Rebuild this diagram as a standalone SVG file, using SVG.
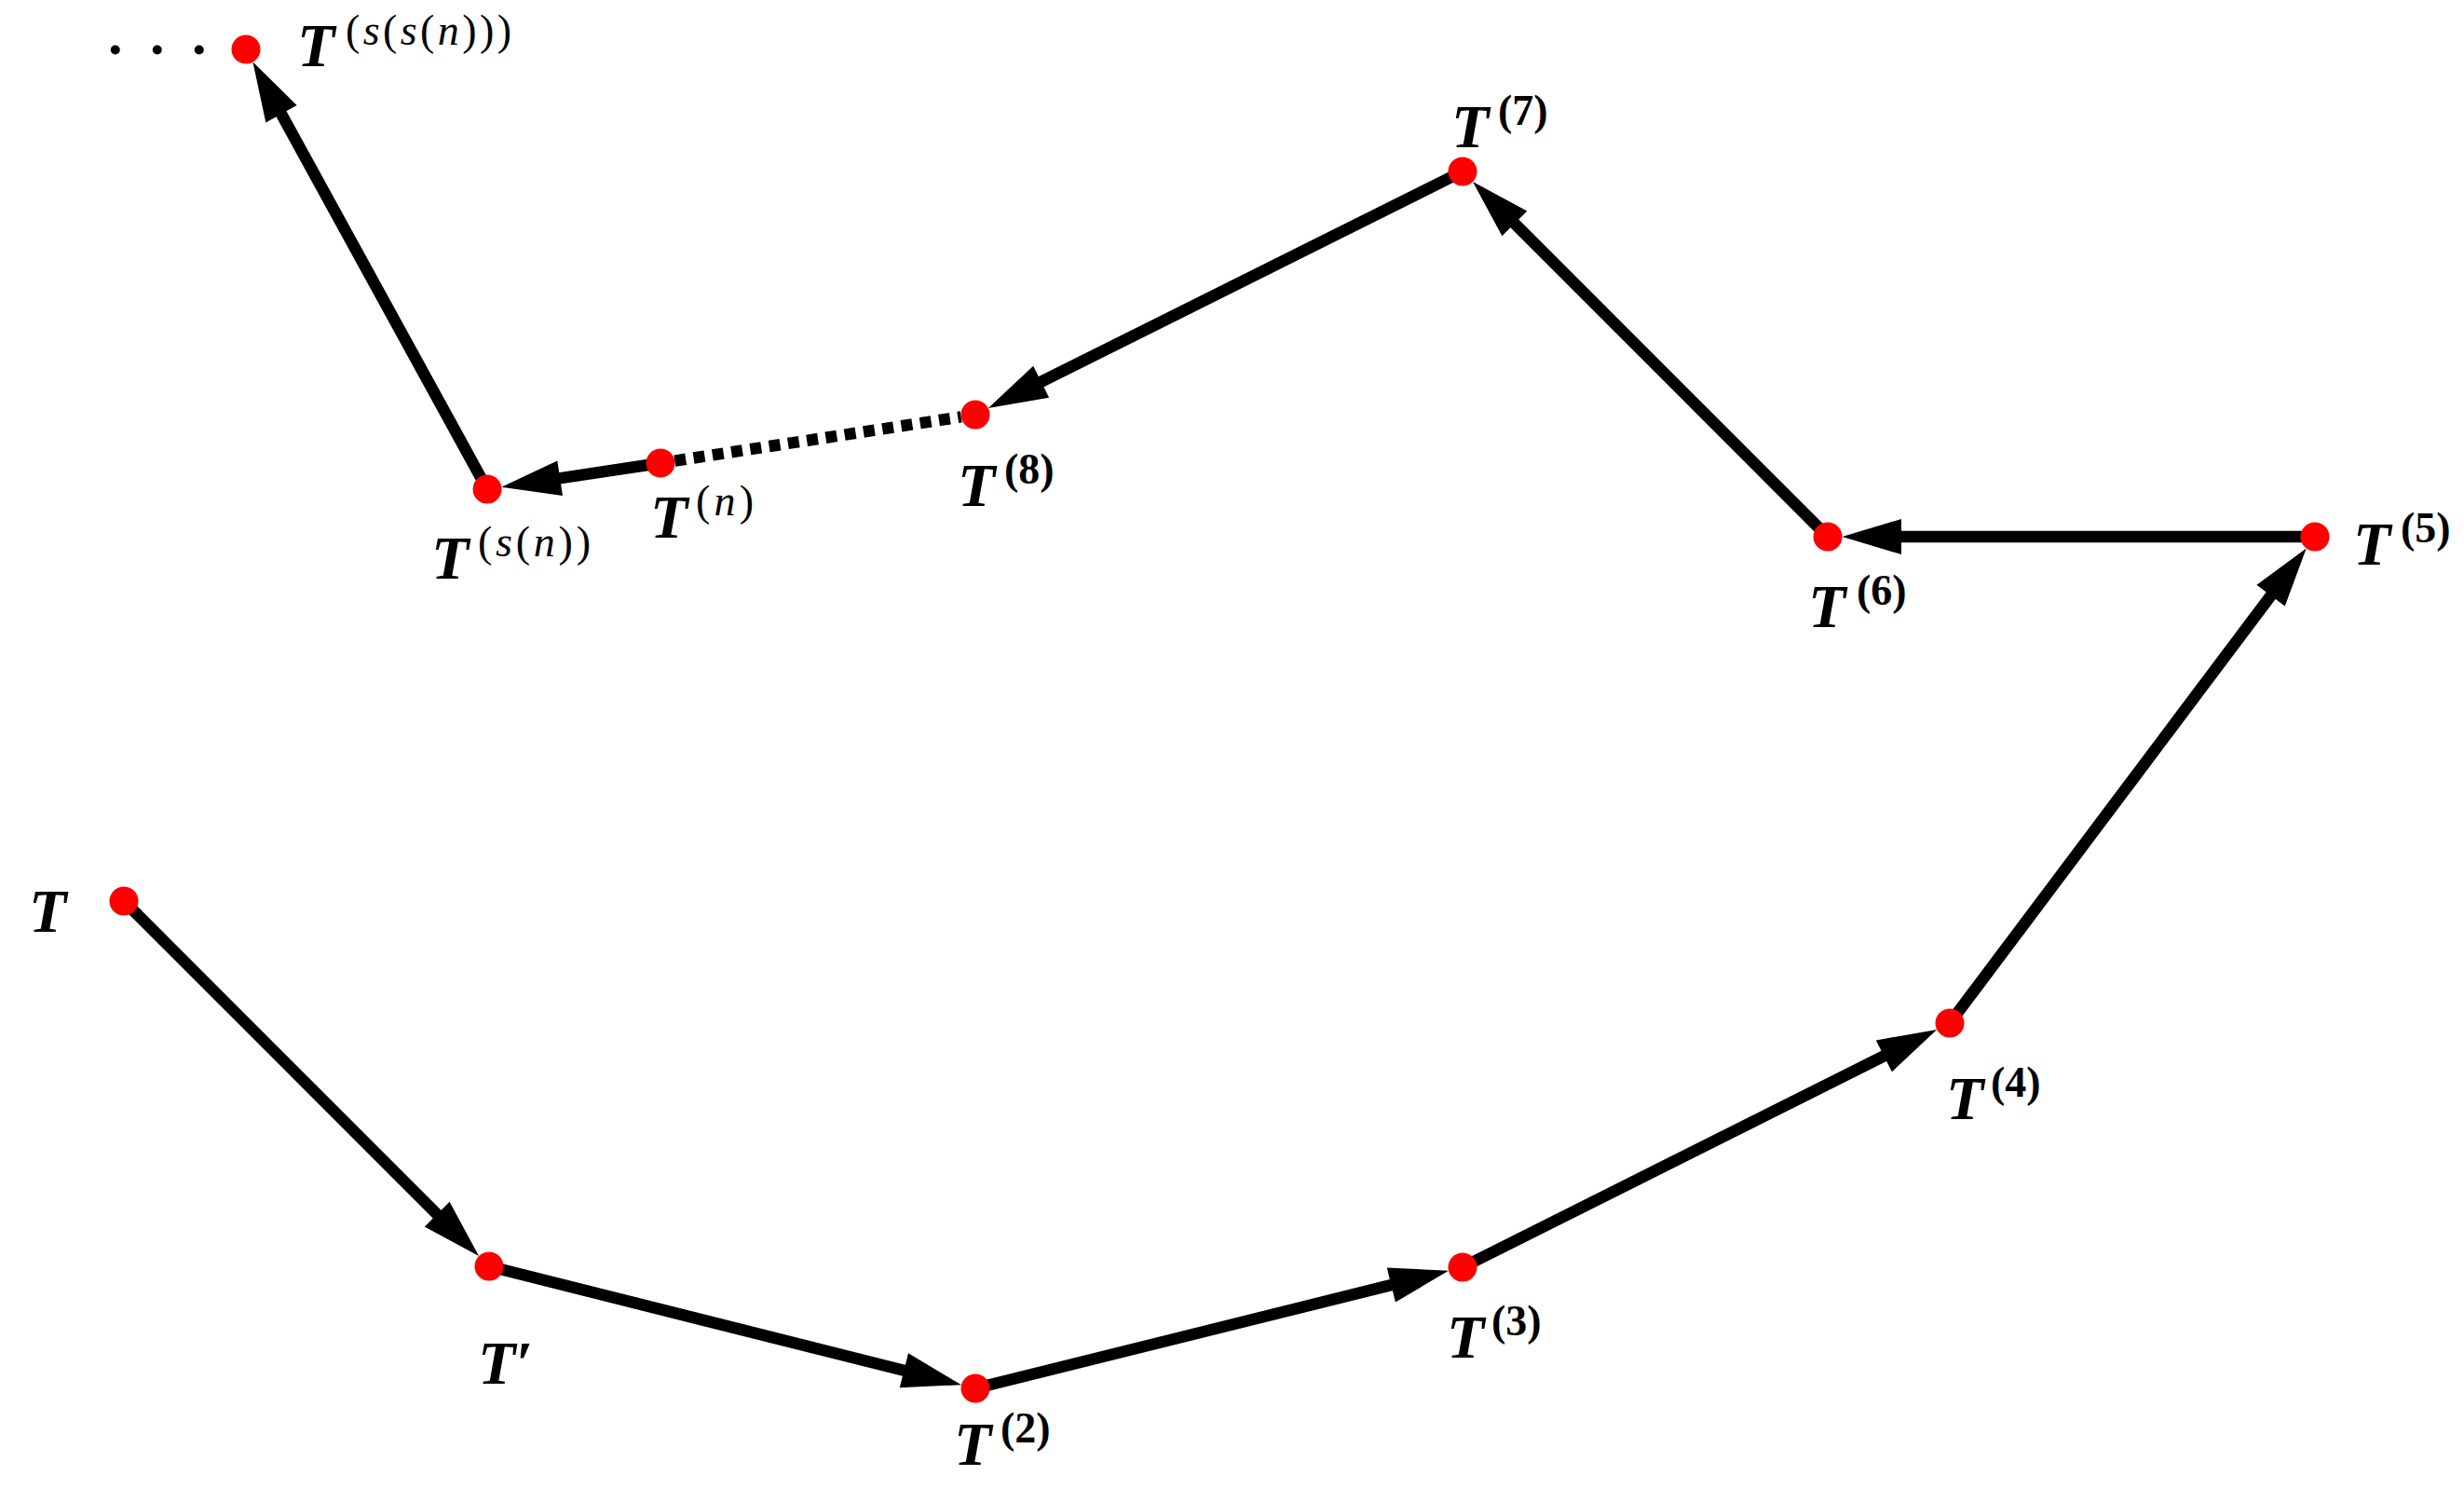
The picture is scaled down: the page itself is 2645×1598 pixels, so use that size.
<svg xmlns="http://www.w3.org/2000/svg" width="2645" height="1598" viewBox="0 0 2645 1598">
<style>
.edge{stroke:#000;stroke-width:12.5;fill:none;marker-end:url(#ah)}
.dash{stroke:#000;stroke-width:12.5;fill:none;stroke-dasharray:12 8.5}
.dot{fill:#ff0000}
.T{font-family:"Liberation Serif",serif;font-weight:bold;font-style:italic;font-size:66px;fill:#000}
.sup{font-family:"Liberation Serif",serif;font-size:46px;fill:#000}
.supb{font-family:"Liberation Serif",serif;font-weight:bold;font-size:46px;fill:#000}
.it{font-style:italic}
.ell{font-family:"Liberation Serif",serif;font-weight:bold;font-size:62px;fill:#000}
</style>
<defs>
<marker id="ah" markerUnits="userSpaceOnUse" orient="auto" refX="0" refY="0" markerWidth="80" markerHeight="40" overflow="visible">
<path d="M-6,-19 L57.5,0 L-6,19 Z" fill="#000"/>
</marker>
</defs>
<rect width="2645" height="1598" fill="#fff"/>
<g id="connectors">
<line class="edge" x1="133" y1="967" x2="473.4" y2="1307.4"/>
<line class="edge" x1="525" y1="1359" x2="976.2" y2="1472.2"/>
<line class="edge" x1="1047" y1="1490" x2="1499.2" y2="1377.6"/>
<line class="edge" x1="1570" y1="1360" x2="2027.7" y2="1130.7"/>
<line class="edge" x1="2093" y1="1098" x2="2441.2" y2="634.4"/>
<line class="edge" x1="2485" y1="576" x2="2035" y2="576"/>
<line class="edge" x1="1962" y1="576" x2="1621.6" y2="235.6"/>
<line class="edge" x1="1570" y1="184" x2="1112.3" y2="412.4"/>
<line class="dash" x1="724.3" y1="494.6" x2="1031.7" y2="447.4"/>
<line class="edge" x1="709" y1="497" x2="595.2" y2="514.1"/>
<line class="edge" x1="523" y1="525" x2="299.1" y2="117"/>
</g>
<g id="node-T">
<circle class="dot" cx="133" cy="967" r="15.5"/>
<text class="T" x="31" y="1000">T</text>
</g>
<g id="node-T1">
<circle class="dot" cx="525" cy="1359" r="15.5"/>
<text class="T" x="513" y="1485">T′</text>
</g>
<g id="node-T2">
<circle class="dot" cx="1047" cy="1490" r="15.5"/>
<text class="T" x="1024" y="1572">T</text>
<text class="supb" x="1074" y="1548">(2)</text>
</g>
<g id="node-T3">
<circle class="dot" cx="1570" cy="1360" r="15.5"/>
<text class="T" x="1553" y="1457">T</text>
<text class="supb" x="1601" y="1433">(3)</text>
</g>
<g id="node-T4">
<circle class="dot" cx="2093" cy="1098" r="15.5"/>
<text class="T" x="2089" y="1201">T</text>
<text class="supb" x="2137" y="1177">(4)</text>
</g>
<g id="node-T5">
<circle class="dot" cx="2485" cy="576" r="15.5"/>
<text class="T" x="2526" y="606">T</text>
<text class="supb" x="2577" y="582">(5)</text>
</g>
<g id="node-T6">
<circle class="dot" cx="1962" cy="576" r="15.5"/>
<text class="T" x="1941" y="673">T</text>
<text class="supb" x="1993" y="649">(6)</text>
</g>
<g id="node-T7">
<circle class="dot" cx="1570" cy="184" r="15.5"/>
<text class="T" x="1558" y="158">T</text>
<text class="supb" x="1608" y="134">(7)</text>
</g>
<g id="node-T8">
<circle class="dot" cx="1047" cy="445" r="15.5"/>
<text class="T" x="1028" y="543">T</text>
<text class="supb" x="1078" y="519">(8)</text>
</g>
<g id="node-Tn">
<circle class="dot" cx="709" cy="497" r="15.5"/>
<text class="T" x="698" y="577">T</text>
<text class="sup" x="747" y="553" textLength="62" lengthAdjust="spacing">(<tspan class="it">n</tspan>)</text>
</g>
<g id="node-Tsn">
<circle class="dot" cx="523" cy="525" r="15.5"/>
<text class="T" x="463" y="621">T</text>
<text class="sup" x="513" y="597" textLength="121" lengthAdjust="spacing">(<tspan class="it">s</tspan>(<tspan class="it">n</tspan>))</text>
</g>
<g id="node-Tssn">
<circle class="dot" cx="264" cy="53" r="15.5"/>
<text class="T" x="319" y="71">T</text>
<text class="sup" x="371" y="48" textLength="178" lengthAdjust="spacing">(<tspan class="it">s</tspan>(<tspan class="it">s</tspan>(<tspan class="it">n</tspan>)))</text>
<text class="ell" x="116 161 206" y="58">...</text>
</g>
</svg>
